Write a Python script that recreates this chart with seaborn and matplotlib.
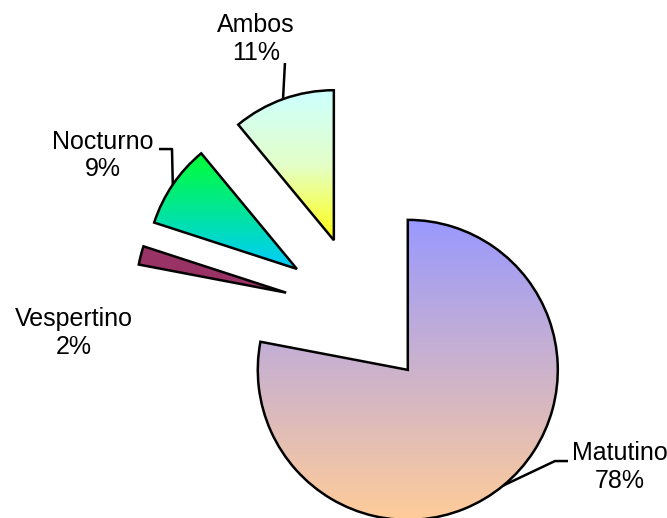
import numpy as np
import matplotlib
matplotlib.use("Agg")
import matplotlib.pyplot as plt
import matplotlib.colors as mcolors
import seaborn as sns

# ---- data ----
categories = ["Matutino", "Vespertino", "Nocturno", "Ambos"]
values = [78, 2, 9, 11]
pct_labels = ["78%", "2%", "9%", "11%"]

# ---- styling ----
# vertical gradient stops (top -> bottom) for each wedge
grad_stops = [["#9999FF", "#FFCC99"],
              ["#993366", "#993366"],
              ["#00FF33", "#00CCFF"],
              ["#CCFFFF", "#E4FFC8", "#FFFF11"]]
explode = [0.505, 0.505, 0.505, 0.505]
# label centres (data units, radius = 1)
label_pos = [(1.737, -1.035), (-1.903, -0.143), (-1.71, 1.04), (-0.69, 1.817)]
# leader-line extra points after the arc midpoint (None = no leader)
leaders = [[(1.303, -0.997), (1.39, -0.997)],
           None,
           [(-1.25, 1.083), (-1.337, 1.083)],
           [(-0.497, 1.657)]]

sns.set_theme(style="white")
plt.rcParams["font.family"] = ["Liberation Sans", "DejaVu Sans"]

fig = plt.figure(figsize=(6.67, 5.18), dpi=100)
ax = fig.add_axes([0, 0, 1, 1])

wedges, _ = ax.pie(values, explode=explode, startangle=90, counterclock=False,
                   radius=1.0,
                   wedgeprops=dict(edgecolor="black", linewidth=1.8))

xlim = (-359.5 / 150, 307.5 / 150)
ylim = (-206.5 / 150, 311.5 / 150)

for w, stops in zip(wedges, grad_stops):
    ext = w.get_path().get_extents()
    cmap = mcolors.LinearSegmentedColormap.from_list("g", stops)
    t = np.linspace(0, 1, 256)[:, None]
    img = cmap(t)[:, :, :3]
    im = ax.imshow(img, extent=[ext.x0, ext.x1, ext.y0, ext.y1], origin="upper",
                   aspect="auto", interpolation="bilinear", zorder=0.5)
    im.set_clip_path(w)
    w.set_facecolor("none")
    w.set_zorder(1)

for w, cat, pct, pos, lead in zip(wedges, categories, pct_labels, label_pos, leaders):
    if lead:
        mid = np.deg2rad((w.theta1 + w.theta2) / 2)
        cx, cy = w.center
        pts = [(cx + w.r * np.cos(mid), cy + w.r * np.sin(mid))] + lead
        xs, ys = zip(*pts)
        ax.plot(xs, ys, color="black", lw=1.8, zorder=2, solid_capstyle="butt")
    ax.text(pos[0], pos[1], f"{cat}\n{pct}", ha="center", va="center",
            multialignment="center", fontsize=18, color="black", linespacing=1.2)

ax.set_xlim(*xlim)
ax.set_ylim(*ylim)
ax.set_aspect("equal")
ax.axis("off")
fig.savefig("out.png", dpi=100, facecolor="white")
